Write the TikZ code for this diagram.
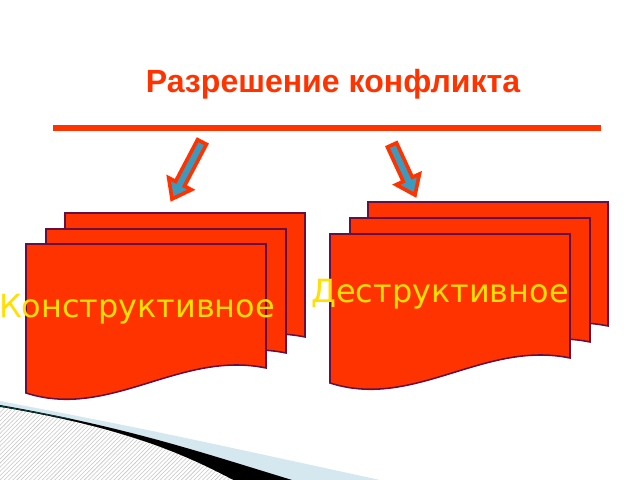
\documentclass[tikz,border=0pt]{standalone}
\usepackage{fontspec}
\setmainfont{Liberation Sans}
\newfontfamily\labelfont{DejaVu Sans}
\usetikzlibrary{calc,patterns}
\definecolor{flame}{HTML}{FF3300}
\definecolor{sheetline}{HTML}{651040}
\definecolor{arrowfill}{HTML}{3B9BBF}
\definecolor{labelyellow}{HTML}{FFE000}
\definecolor{paleblue}{HTML}{D5E7EF}
\tikzset{
	sheet/.style={fill=flame, draw=sheetline, line width=1.1pt},
	arrowbody/.style={fill=arrowfill, draw=flame, line width=2.6pt, line join=miter},
	stacklabel/.style={font=\labelfont\fontsize{22.7}{26}\selectfont, text=labelyellow, anchor=base, inner sep=0pt}
}
\def\docsheet(#1,#2){\draw[sheet, shift={(#1,#2)}] (0,0) -- (240,0) -- (240,124) .. controls (154,106) and (84,176) .. (0,149) -- cycle;}
\def\blockarrow(#1)(#2){
	\coordinate (hb) at ($(#2)!4.3mm!(#1)$);
	\draw[arrowbody] ($(#1)!1.25mm!90:(#2)$) -- ($(hb)!1.25mm!90:(#2)$) -- ($(hb)!3.2mm!90:(#2)$) -- (#2)
		-- ($(hb)!3.2mm!-90:(#2)$) -- ($(hb)!1.25mm!-90:(#2)$) -- ($(#1)!1.25mm!-90:(#2)$) -- cycle;
}
\begin{document}
\begin{tikzpicture}[x=0.025cm, y=-0.025cm]
			%%%%% START %%%%%
			\useasboundingbox[fill=white] (0,0) rectangle (640,480);
			
			\node[font=\bfseries\fontsize{22.8}{26}\selectfont, text=flame, anchor=base, inner sep=0pt] (title) at (333,93) {Разрешение конфликта};
			\draw[flame, line width=4.3pt] (53,128) -- (601,128);
			
			% arrows
			\coordinate (ltail) at (202,142);
			\coordinate (ltip) at (172,199);
			\coordinate (rtail) at (392,145);
			\coordinate (rtip) at (415,195);
			\blockarrow(ltail)(ltip)
			\blockarrow(rtail)(rtip)
			
			% left stack
			\docsheet(65,213)
			\docsheet(46,229)
			\docsheet(26,244)
			
			% right stack
			\docsheet(368,202)
			\docsheet(350,218)
			\docsheet(330,234)
			
			\node[stacklabel] (kon) at (137,317) {Конструктивное};
			\node[stacklabel] (des) at (440,302) {Деструктивное};
			
			% corner swoosh
			\fill[paleblue] (0,401) .. controls (150,430) .. (380,480) -- (0,480) -- cycle;
			\fill[black] (0,405) .. controls (130,428) and (200,452) .. (292,480) -- (0,480) -- cycle;
			\fill[white] (0,407) .. controls (120,427) and (180,452) .. (233,480) -- (0,480) -- cycle;
			\fill[pattern=north east lines, pattern color=gray!45] (0,407) .. controls (120,427) and (180,452) .. (233,480) -- (0,480) -- cycle;
			\draw[teal!60!black, line width=0.5pt] (0,406) .. controls (40,413) .. (70,419);
			
			%%%%% END %%%%%
		\end{tikzpicture}
\end{document}
